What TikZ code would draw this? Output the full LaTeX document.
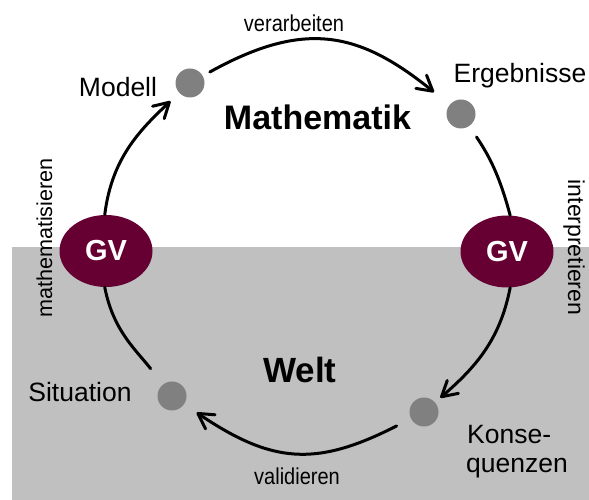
\documentclass[tikz,border=0pt]{standalone}
\usepackage{fontspec}
\setmainfont{Liberation Sans}
\usetikzlibrary{arrows.meta,shapes.geometric}
\definecolor{bggray}{RGB}{192,192,192}
\definecolor{dotgray}{RGB}{128,128,128}
\definecolor{gvred}{RGB}{102,0,51}
\newcommand\tallertext[1]{\scalebox{1}[1.15]{#1}}
\begin{document}
\begin{tikzpicture}[x=1pt,y=1pt,
  dot/.style={circle,fill=dotgray,minimum size=29pt,inner sep=0pt},
  gv/.style={ellipse,fill=gvred,minimum width=93pt,minimum height=72pt,inner sep=0pt,text=white,font=\fontsize{29}{29}\selectfont\bfseries},
  conn/.style={line width=3pt,line cap=round,black},
  arr/.style={conn,-{Straight Barb[length=15pt,width=17pt,round]}},
  lbl/.style={inner sep=0pt,anchor=base,font=\fontsize{26.5}{30}\selectfont},
  small/.style={inner sep=0pt,anchor=base,font=\fontsize{20}{24}\selectfont},
  title/.style={inner sep=0pt,anchor=base,font=\fontsize{34}{38}\selectfont\bfseries}
]
\useasboundingbox (0,0) rectangle (589,500);
\fill[bggray] (12,0) rectangle (589,253);

% main nodes
\node[gv] (gvL) at (106,249) {GV};
\node[gv] (gvR) at (507,248.5) {GV};
\node[dot] (dM) at (190,417) {};
\node[dot] (dE) at (461,386) {};
\node[dot] (dS) at (172,104) {};
\node[dot] (dK) at (424,88) {};

% labels
\node[lbl] (tM) at (118,403) {Modell};
\node[lbl] (tE) at (520,417) {Ergebnisse};
\node[lbl] (tS) at (80,98) {Situation};
\node[lbl,anchor=base west] (tK1) at (467,56) {Konse-};
\node[lbl,anchor=base west] (tK2) at (466,27) {quenzen};
\node[title] (math) at (317.5,370) {Mathematik};
\node[title,font=\fontsize{35}{38}\selectfont\bfseries] (welt) at (300,117) {Welt};
\node[small] (verarb) at (294,468) {\tallertext{verarbeiten}};
\node[small] (valid) at (297,15) {\tallertext{validieren}};
\node[small,rotate=90,font=\fontsize{21.6}{24}\selectfont] (mathem) at (52,262) {mathematisieren};
\node[small,rotate=-90,font=\fontsize{23}{26}\selectfont] (interp) at (568,252.5) {interpretieren};

% connectors
\draw[arr,shorten >=12pt] (gvL.92) to[out=83,in=223] (dM);
\draw[arr,shorten <=8pt,shorten >=20pt] (dM) to[out=29,in=141,looseness=1.2] (dE);
\draw[conn,shorten <=13pt] (dE) to[out=-56,in=105] (gvR.85);
\draw[arr,shorten >=7pt] (gvR.275) to[out=-101,in=41] (dK);
\draw[arr,shorten <=16pt,shorten >=15pt] (dK) to[out=-153,in=-34,looseness=1.2] (dS);
\draw[conn,shorten <=20pt] (dS) to[out=128,in=-79] (gvL.268);
\end{tikzpicture}
\end{document}
